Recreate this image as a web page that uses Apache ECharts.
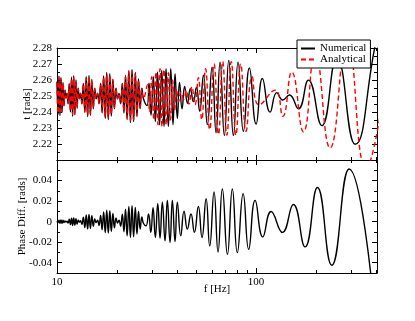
<!DOCTYPE html>
<html>
<head lang="en">
    <meta charset="UTF-8">
    <title>Phase comparison</title>
    <script src="https://cdn.jsdelivr.net/npm/echarts@6/dist/echarts.min.js"></script>
    <style>
        html, body { margin: 0; padding: 0; background: #fff; }
        #chart { width: 415px; height: 321px; }
    </style>
</head>
<body>
<div id="chart"></div>
<script>
    // shared extrema grid for the dense low-frequency part (10 - 27 Hz)
    var denseF = [10.0,10.12,10.23,10.35,10.47,10.6,10.72,10.84,10.97,11.1,
        11.23,11.37,11.52,11.68,11.83,11.98,12.13,12.3,12.46,12.62,12.78,12.96,
        13.13,13.34,13.56,13.8,14.02,14.25,14.48,14.72,14.96,15.22,15.47,15.72,
        15.98,16.26,16.56,16.85,17.15,17.47,17.77,18.1,18.42,18.74,19.09,19.43,19.79,20.14,
        20.49,20.87,21.29,21.69,22.09,22.5,22.95,23.38,23.82,24.26,24.74,25.21,25.68,26.16,26.68,27.17];

    var numDense = [2.259,2.2385,2.2623,2.2378,2.2615,2.2397,2.2585,2.2438,2.2538,2.2487,
        2.2517,2.2452,2.2577,2.24,2.2617,2.2374,2.2626,2.2383,2.26,2.2423,2.2548,2.2483,
        2.2517,2.2451,2.2579,2.2397,2.262,2.2371,2.2629,2.238,2.2603,2.2421,2.2549,2.2483,
        2.2517,2.2451,2.2579,2.2395,2.2625,2.236,2.2647,2.2353,2.264,2.2375,2.2605,2.2421,2.2549,2.2483,
        2.2516,2.2452,2.2579,2.2394,2.2629,2.2353,2.266,2.2334,2.2666,2.234,2.2647,2.2371,2.2606,2.2421,2.2548,2.2484];

    var anaDense = [2.2584,2.2393,2.2614,2.2387,2.2607,2.2404,2.2579,2.2442,2.2535,2.2488,
        2.2516,2.2455,2.2572,2.2407,2.2609,2.2383,2.2617,2.2391,2.2593,2.2428,2.2545,2.2484,
        2.2516,2.2454,2.2573,2.2404,2.2612,2.238,2.262,2.2388,2.2596,2.2427,2.2546,2.2484,
        2.2516,2.2454,2.2573,2.2402,2.2616,2.237,2.2637,2.2363,2.263,2.2384,2.2598,2.2427,2.2546,2.2484,
        2.2515,2.2455,2.2573,2.2401,2.262,2.2363,2.2649,2.2346,2.2654,2.2351,2.2637,2.238,2.2599,2.2427,2.2545,2.2485];

    var diffDense = [0.0005,-0.001,0.0014,-0.0016,0.0016,-0.0015,0.0013,-0.001,0.0007,-0.0003,
        0.0005,-0.0014,0.0023,-0.0029,0.0034,-0.0037,0.0037,-0.0034,0.0029,-0.0023,0.0014,-0.0005,
        0.0009,-0.0027,0.0044,-0.0057,0.0066,-0.0071,0.0071,-0.0066,0.0057,-0.0044,0.0027,-0.0009,
        0.0013,-0.0037,0.006,-0.0079,0.0095,-0.0106,0.0111,-0.0111,0.0106,-0.0095,0.0079,-0.006,0.0037,-0.0013,
        0.0015,-0.0045,0.0073,-0.0098,0.012,-0.0137,0.0148,-0.0154,0.0154,-0.0148,0.0137,-0.012,0.0098,-0.0073,0.0045,-0.0015];

    // above ~28 Hz every curve has its own extrema
    var numTailF = [28.33,28.99,29.67,30.47,31.19,31.99,32.74,33.58,34.49,35.3,36.25,37.27,38.27,39.17,40.23,41.26,
        42.48,43.77,45.21,46.76,48.41,50.18,52.07,54.41,56.92,60.1,62.95,65.93,69.3,72.92,76.9,81.2,86.34,92.54,
        100,107.6,117.6,127.1,136.2,147,163.2,183.2,213.9,254.4,314.4,405,445];
    var numTailV = [2.244,2.258,2.238,2.262,2.234,2.265,2.232,2.266,2.231,2.267,2.231,2.267,2.232,2.264,2.236,2.2585,
        2.242,2.256,2.2455,2.2545,2.2465,2.2555,2.2405,2.263,2.2321,2.268,2.227,2.2712,2.2253,2.2722,2.2253,2.2712,2.228,2.2675,
        2.2325,2.2609,2.2399,2.2521,2.2475,2.2506,2.242,2.2599,2.2315,2.274,2.2198,2.287,2.30];

    var anaTailF = [28.5,29.16,29.91,30.65,31.44,32.18,32.93,33.7,34.49,35.38,36.25,37.14,38.05,38.95,39.86,40.79,
        41.99,43.27,44.64,46.06,47.58,49.37,51.29,53.35,55.75,58.46,61.51,64.72,67.95,71.33,75.05,79.16,83.68,89.07,
        95.48,103.5,124.6,136.2,151.1,172.9,197.9,235.4,286.6,357.1,405,482];
    var anaTailV = [2.257,2.24,2.262,2.235,2.265,2.232,2.267,2.231,2.2665,2.232,2.2645,2.235,2.26,2.241,2.2545,2.2465,
        2.2525,2.248,2.2535,2.245,2.2558,2.2445,2.2615,2.2352,2.267,2.229,2.27,2.226,2.2715,2.2255,2.2715,2.2255,2.27,2.228,
        2.262,2.2445,2.2537,2.2373,2.265,2.2276,2.277,2.2175,2.285,2.205,2.227,2.29];

    var diffTailF = [28.0,28.83,29.6,30.37,31.19,32.07,32.93,33.82,34.89,35.83,36.97,37.97,39.17,40.23,41.84,43.47,
        45.16,47.1,49.0,51.3,53.5,56.1,58.5,61.5,64.4,67.7,71.8,76.0,80.5,86.1,91.8,98.9,108.1,119,135.6,153.9,
        176.3,203.3,240,293.4,385];
    var diffTailV = [-0.004,0.0075,-0.0105,0.0135,-0.0155,0.0174,-0.016,0.019,-0.0187,0.0207,-0.0203,0.0207,-0.0194,0.019,-0.0138,0.0102,
        -0.0072,0.0075,-0.0105,0.0148,-0.0154,0.0223,-0.0236,0.0289,-0.0295,0.0318,-0.0318,0.0318,-0.0302,0.0272,-0.027,0.0207,
        -0.0148,0.0099,-0.0105,0.0167,-0.0246,0.0332,-0.0424,0.0512,-0.068];

    // ticks and labels
    var xMajor = [10, 100];
    var xMinor = [20, 30, 40, 50, 60, 70, 80, 90, 200, 300, 400];
    var tMajor = [2.22, 2.23, 2.24, 2.25, 2.26, 2.27, 2.28];
    var tMinor = [2.215, 2.225, 2.235, 2.245, 2.255, 2.265, 2.275];
    var dMajor = [-0.04, -0.02, 0, 0.02, 0.04];
    var dMinor = [-0.05, -0.03, -0.01, 0.01, 0.03, 0.05];

    var FONT = '"Liberation Serif", "Times New Roman", serif';

    function pairs(fs, vs) {
        var out = [];
        for (var i = 0; i < fs.length; i++) {
            out.push([fs[i], vs[i]]);
        }
        return out;
    }

    function xAxisFor(grid, pos, ticks, len, main, labels) {
        var ax = {
            type: 'log', logBase: 10, gridIndex: grid, position: pos,
            min: 10, max: 405,
            axisLine: { show: main, onZero: false, lineStyle: { color: '#000', width: 1 } },
            axisTick: { show: true, inside: true, length: len, customValues: ticks, lineStyle: { color: '#000', width: 1 } },
            axisLabel: { show: false },
            splitLine: { show: false }
        };
        if (labels) {
            ax.axisLabel = { show: true, customValues: xMajor, color: '#000', fontFamily: FONT, fontSize: 11, margin: 4 };
            ax.name = 'f [Hz]';
            ax.nameLocation = 'middle';
            ax.nameGap = 11;
            ax.nameMoveOverlap = false;
            ax.nameTextStyle = { color: '#000', fontFamily: FONT, fontSize: 11, verticalAlign: 'top' };
        }
        return ax;
    }

    function yAxisFor(grid, pos, lo, hi, ticks, len, main, labelVals, name, gap, fmt) {
        var ax = {
            type: 'value', gridIndex: grid, position: pos,
            min: lo, max: hi,
            axisLine: { show: main, onZero: false, lineStyle: { color: '#000', width: 1 } },
            axisTick: { show: true, inside: true, length: len, customValues: ticks, lineStyle: { color: '#000', width: 1 } },
            axisLabel: { show: false },
            splitLine: { show: false }
        };
        if (labelVals) {
            ax.axisLabel = { show: true, customValues: labelVals, color: '#000', fontFamily: FONT, fontSize: 11, margin: 5, formatter: fmt };
            ax.name = name;
            ax.nameLocation = 'middle';
            ax.nameGap = gap;
            ax.nameMoveOverlap = false;
            ax.nameTextStyle = { color: '#000', fontFamily: FONT, fontSize: 11 };
        }
        return ax;
    }

    var tFmt = function (v) { return v.toFixed(2); };
    var dFmt = function (v) { return Math.abs(v) < 1e-9 ? '0' : v.toFixed(2); };

    var chart = echarts.init(document.getElementById('chart'), null, { renderer: 'canvas' });

    var option = {
        animation: false,
        backgroundColor: '#fff',
        grid: [
            { left: 57, top: 48, width: 320, height: 112 },
            { left: 57, top: 160, width: 320, height: 113 }
        ],
        legend: {
            data: ['Numerical', 'Analytical'],
            orient: 'vertical',
            left: 297, top: 40,
            padding: [3, 4, 3, 3],
            itemGap: 0,
            itemWidth: 14, itemHeight: 11,
            itemStyle: { opacity: 0 },
            backgroundColor: '#fff',
            borderColor: '#000', borderWidth: 1, borderRadius: 0,
            textStyle: { color: '#000', fontFamily: FONT, fontSize: 11 },
            z: 10
        },
        xAxis: [
            xAxisFor(0, 'bottom', xMajor, 5, true, false),
            xAxisFor(0, 'bottom', xMinor, 3, false, false),
            xAxisFor(0, 'top', xMajor, 5, true, false),
            xAxisFor(0, 'top', xMinor, 3, false, false),
            xAxisFor(1, 'bottom', xMajor, 5, true, true),
            xAxisFor(1, 'bottom', xMinor, 3, false, false),
            xAxisFor(1, 'top', xMajor, 5, true, false),
            xAxisFor(1, 'top', xMinor, 3, false, false)
        ],
        yAxis: [
            yAxisFor(0, 'left', 2.21, 2.28, tMajor, 5, true, tMajor, 't [rads]', 24, tFmt),
            yAxisFor(0, 'left', 2.21, 2.28, tMinor, 3, false),
            yAxisFor(0, 'right', 2.21, 2.28, tMajor, 5, true),
            yAxisFor(0, 'right', 2.21, 2.28, tMinor, 3, false),
            yAxisFor(1, 'left', -0.05, 0.06, dMajor, 5, true, dMajor, 'Phase Diff. [rads]', 29, dFmt),
            yAxisFor(1, 'left', -0.05, 0.06, dMinor, 3, false),
            yAxisFor(1, 'right', -0.05, 0.06, dMajor, 5, true),
            yAxisFor(1, 'right', -0.05, 0.06, dMinor, 3, false)
        ],
        series: [
            {
                name: 'Numerical', type: 'line', xAxisIndex: 0, yAxisIndex: 0,
                data: pairs(denseF.concat(numTailF), numDense.concat(numTailV)),
                symbol: 'none', smooth: 0.5,
                lineStyle: { color: '#000', width: 1.4 },
                itemStyle: { color: '#000' }
            },
            {
                name: 'Analytical', type: 'line', xAxisIndex: 0, yAxisIndex: 0,
                data: pairs(denseF.concat(anaTailF), anaDense.concat(anaTailV)),
                symbol: 'none', smooth: 0.5,
                lineStyle: { color: '#ff0000', width: 1.4, type: [5, 3] },
                itemStyle: { color: '#ff0000' }
            },
            {
                name: 'Phase Diff.', type: 'line', xAxisIndex: 4, yAxisIndex: 4,
                data: pairs(denseF.concat(diffTailF), diffDense.concat(diffTailV)),
                symbol: 'none', smooth: 0.5,
                lineStyle: { color: '#000', width: 1.4 },
                itemStyle: { color: '#000' }
            }
        ]
    };

    chart.setOption(option);
</script>
</body>
</html>
